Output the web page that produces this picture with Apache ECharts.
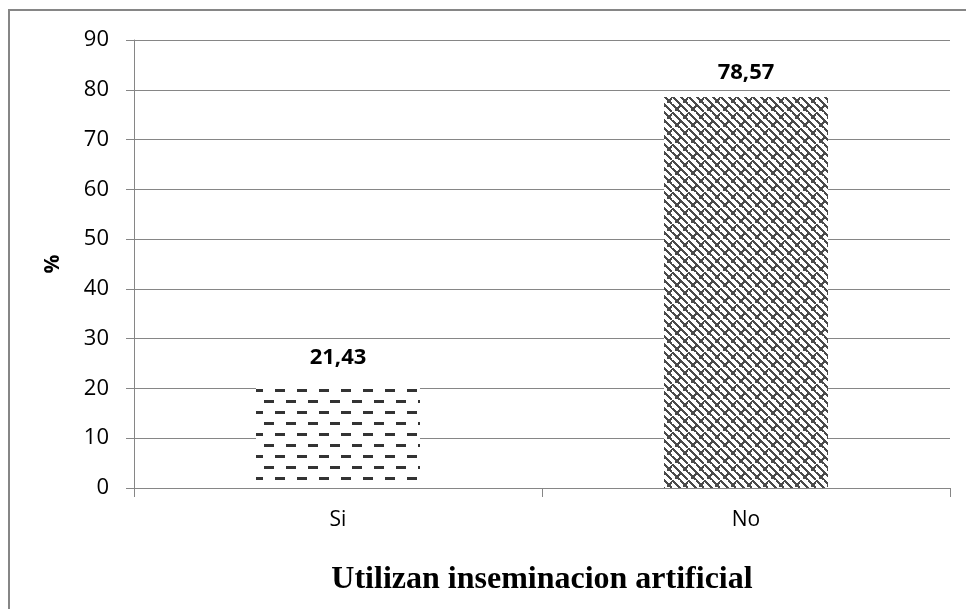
<!DOCTYPE html>
<html>
<head>
<meta charset="utf-8">
<script src="https://cdn.jsdelivr.net/npm/echarts@6/dist/echarts.min.js"></script>
<style>
  html, body { margin: 0; padding: 0; background: #fff; }
  #chart { width: 966px; height: 609px; }
</style>
</head>
<body>
<div id="chart"></div>
<script>
  const categories = ['Si', 'No']
  const values = [21.43, 78.57]
  const valueLabels = ['21,43', '78,57']

  // dashes pattern for "Si"
  const makeDashPattern = () => {
    const c = document.createElement('canvas')
    c.width = 22
    c.height = 22
    const ctx = c.getContext('2d')
    ctx.fillStyle = '#fff'
    ctx.fillRect(0, 0, 22, 22)
    ctx.fillStyle = '#333'
    ctx.fillRect(0, 4, 10, 3)
    ctx.fillRect(11, 15, 10, 3)
    return c
  }

  // woven pattern for "No"
  const makeWeavePattern = () => {
    const s = 16
    const c = document.createElement('canvas')
    c.width = s
    c.height = s
    const ctx = c.getContext('2d')
    ctx.fillStyle = '#fff'
    ctx.fillRect(0, 0, s, s)
    ctx.fillStyle = '#4a4a4a'
    for (let i = 0; i < s; i++) {
      ctx.fillRect(i, i % s, 2, 2)
      ctx.fillRect(i, (i + 8) % s, 2, 2)
    }
    for (let k = 0; k < 5; k++) {
      ctx.fillRect(3 + k, 13 - k, 2, 2)
      ctx.fillRect((11 + k) % s, (5 - k + s) % s, 2, 2)
    }
    return c
  }

  const patterns = [makeDashPattern(), makeWeavePattern()]

  const chart = echarts.init(document.getElementById('chart'))
  chart.setOption({
    animation: false,
    backgroundColor: '#fff',
    graphic: [{
      type: 'rect',
      shape: { x: 9, y: 10, width: 1000, height: 700 },
      style: { fill: 'none', stroke: '#868686', lineWidth: 2 },
      silent: true
    }],
    grid: { left: 134, right: 16, top: 40, bottom: 121 },
    xAxis: {
      type: 'category',
      data: categories,
      name: 'Utilizan inseminacion artificial',
      nameLocation: 'middle',
      nameGap: 76,
      nameTextStyle: { fontFamily: 'Liberation Serif', fontWeight: 'bold', fontSize: 32, color: '#000' },
      axisLine: { lineStyle: { color: '#868686', width: 1 } },
      axisTick: { show: true, length: 9, lineStyle: { color: '#868686' } },
      axisLabel: { fontFamily: 'Open Sans', fontSize: 21, color: '#000', margin: 22 }
    },
    yAxis: {
      type: 'value',
      min: 0,
      max: 90,
      interval: 10,
      name: '%',
      nameLocation: 'middle',
      nameGap: 70,
      nameRotate: 90,
      nameTextStyle: { fontFamily: 'Open Sans', fontWeight: 'bold', fontSize: 21, color: '#000' },
      axisLine: { show: true, lineStyle: { color: '#868686', width: 1 } },
      axisTick: { show: true, length: 8, lineStyle: { color: '#868686' } },
      axisLabel: { fontFamily: 'Open Sans', fontSize: 22, color: '#000', margin: 25 },
      splitLine: { lineStyle: { color: '#868686', width: 1 } }
    },
    series: [{
      type: 'bar',
      barWidth: 164,
      data: values.map((v, i) => ({
        value: v,
        itemStyle: { color: { image: patterns[i], repeat: 'repeat' } },
        label: {
          show: true,
          position: 'top',
          distance: 13,
          formatter: valueLabels[i],
          fontFamily: 'Open Sans',
          fontWeight: 'bold',
          fontSize: 22,
          color: '#000'
        }
      }))
    }]
  })
</script>
</body>
</html>
